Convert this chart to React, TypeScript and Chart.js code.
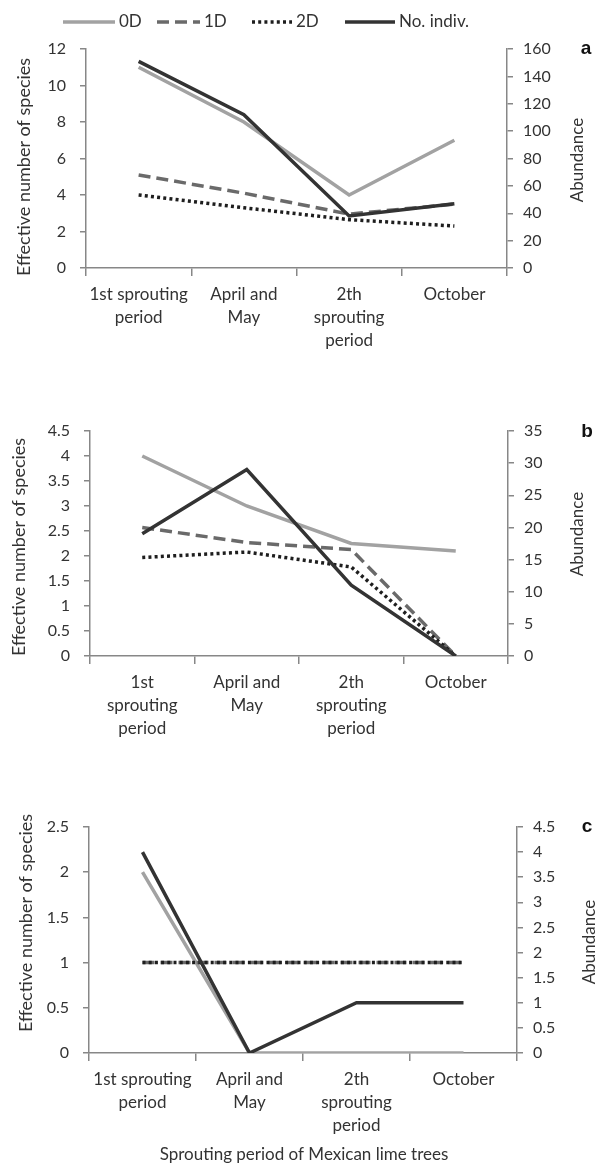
import React, { useEffect, useRef } from "react";
import { Chart, registerables } from "chart.js";

Chart.register(...registerables);

// ---------- data ----------
const seriesNames = ["0D", "1D", "2D", "No. indiv."];

const categoriesA = [["1st sprouting", "period"], ["April and", "May"], ["2th", "sprouting", "period"], ["October"]];
const categoriesB = [["1st", "sprouting", "period"], ["April and", "May"], ["2th", "sprouting", "period"], ["October"]];
const categoriesC = [["1st sprouting", "period"], ["April and", "May"], ["2th", "sprouting", "period"], ["October"]];

const a0D = [11, 8, 4, 7];
const a1D = [5.1, 4.1, 2.95, 3.5];
const a2D = [4.0, 3.3, 2.65, 2.3];
const aIndiv = [151, 112, 38, 47];

const b0D = [4, 3, 2.25, 2.1];
const b1D = [2.57, 2.27, 2.13, 0];
const b2D = [1.97, 2.08, 1.78, 0];
const bIndiv = [19, 29, 11, 0];

const c0D = [2, 0, 0, 0];
const c1D = [1, 1, 1, 1];
const c2D = [1, 1, 1, 1];
const cIndiv = [4, 0, 1, 1];

const leftAxisTitle = "Effective number of species";
const rightAxisTitle = "Abundance";
const xAxisTitle = "Sprouting period of Mexican lime trees";

// ---------- styles ----------
const FONT = "Lato, 'Liberation Sans', sans-serif";
const AXIS = "#878787";
const TXT = "#333333";

const seriesStyles = [
  { borderColor: "#a2a2a2", borderWidth: 3.5, borderDash: [] as number[], order: 3 },
  { borderColor: "#6a6a6a", borderWidth: 3.5, borderDash: [12, 6], order: 2 },
  { borderColor: "#1e1e1e", borderWidth: 3.5, borderDash: [3, 3.2], order: 1 },
  { borderColor: "#333333", borderWidth: 3.5, borderDash: [] as number[], order: 0 },
];

const fmt = (v: any) => String(Math.round(Number(v) * 100) / 100);

const decorPlugin = {
  id: "decor",
  afterDraw(chart: any, _args: any, opts: any) {
    const ctx = chart.ctx;
    (opts.texts || []).forEach((t: any) => {
      ctx.save();
      ctx.font = t.font;
      ctx.fillStyle = t.color || TXT;
      ctx.textAlign = "center";
      ctx.textBaseline = "middle";
      ctx.translate(t.x, t.y);
      if (t.rotate) ctx.rotate(t.rotate);
      ctx.fillText(t.text, 0, 0);
      ctx.restore();
    });
    if (opts.legend) {
      const L = opts.legend;
      chart.data.datasets.forEach((ds: any, i: number) => {
        const x0 = L.x[i];
        const len = L.len[i];
        ctx.save();
        ctx.strokeStyle = ds.borderColor;
        ctx.lineWidth = ds.borderWidth;
        ctx.setLineDash(ds.borderDash || []);
        ctx.beginPath();
        ctx.moveTo(x0, L.y);
        ctx.lineTo(x0 + len, L.y);
        ctx.stroke();
        ctx.restore();
        ctx.save();
        ctx.font = L.font;
        ctx.fillStyle = TXT;
        ctx.textAlign = "left";
        ctx.textBaseline = "middle";
        ctx.fillText(ds.label, x0 + len + L.gap, L.y);
        ctx.restore();
      });
    }
  },
};

type Panel = {
  labels: string[][];
  d0: number[];
  d1: number[];
  d2: number[];
  dn: number[];
  lMax: number;
  lStep: number;
  rMax: number;
  rStep: number;
  lW: number;
  rW: number;
  xH: number;
  padTop: number;
  texts: any[];
  legend?: any;
};

function buildConfig(p: Panel): any {
  const datas = [p.d0, p.d1, p.d2, p.dn];
  const datasets = datas.map((d, i) => ({
    label: seriesNames[i],
    data: d,
    yAxisID: i === 3 ? "y1" : "y",
    borderColor: seriesStyles[i].borderColor,
    backgroundColor: seriesStyles[i].borderColor,
    borderWidth: seriesStyles[i].borderWidth,
    borderDash: seriesStyles[i].borderDash,
    borderCapStyle: "butt",
    borderJoinStyle: "miter",
    order: seriesStyles[i].order,
    pointRadius: 0,
    pointHoverRadius: 0,
    tension: 0,
    fill: false,
  }));
  const tickFont = { family: FONT, size: 16 };
  return {
    type: "line",
    data: { labels: p.labels, datasets },
    options: {
      animation: false,
      responsive: false,
      devicePixelRatio: 1,
      layout: { padding: { top: p.padTop, left: 0, right: 0, bottom: 0 } },
      plugins: {
        legend: { display: false },
        tooltip: { enabled: false },
        decor: { texts: p.texts, legend: p.legend },
      },
      scales: {
        x: {
          type: "category",
          offset: true,
          grid: { offset: true, drawOnChartArea: false, drawTicks: true, tickLength: 8, color: AXIS, lineWidth: 1.5 },
          border: { display: true, color: AXIS, width: 1.5 },
          ticks: { font: { family: FONT, size: 17, lineHeight: 1.35 }, color: TXT, padding: 7, maxRotation: 0, minRotation: 0, autoSkip: false },
          afterFit: (s: any) => { s.height = p.xH; },
        },
        y: {
          position: "left",
          min: 0,
          max: p.lMax,
          ticks: { stepSize: p.lStep, font: tickFont, color: TXT, padding: 14, callback: fmt },
          grid: { drawOnChartArea: false, drawTicks: true, tickLength: 6, color: AXIS, lineWidth: 1.5 },
          border: { display: true, color: AXIS, width: 1.5 },
          afterFit: (s: any) => { s.width = p.lW; },
        },
        y1: {
          position: "right",
          min: 0,
          max: p.rMax,
          ticks: { stepSize: p.rStep, font: tickFont, color: TXT, padding: 10, callback: fmt },
          grid: { drawOnChartArea: false, drawTicks: true, tickLength: 6, color: AXIS, lineWidth: 1.5 },
          border: { display: true, color: AXIS, width: 1.5 },
          afterFit: (s: any) => { s.width = p.rW; },
        },
      },
    },
    plugins: [decorPlugin],
  };
}

const titleFont = `18px ${FONT}`;
const rightFont = `17px ${FONT}`;
const letterFont = `bold 19px 'Liberation Sans', Arial, sans-serif`;
const ROT = -Math.PI / 2;

const panelA: Panel = {
  labels: categoriesA, d0: a0D, d1: a1D, d2: a2D, dn: aIndiv,
  lMax: 12, lStep: 2, rMax: 160, rStep: 20,
  lW: 86, rW: 88, xH: 107, padTop: 49,
  texts: [
    { text: leftAxisTitle, x: 24, y: 167, font: titleFont, rotate: ROT },
    { text: rightAxisTitle, x: 578, y: 160, font: rightFont, rotate: ROT },
    { text: "a", x: 586, y: 49, font: letterFont, color: "#111" },
  ],
  legend: { x: [63, 157, 252, 345], len: [52, 43, 40, 50], gap: 4, y: 22, font: `17px ${FONT}` },
};

const panelB: Panel = {
  labels: categoriesB, d0: b0D, d1: b1D, d2: b2D, dn: bIndiv,
  lMax: 4.5, lStep: 0.5, rMax: 35, rStep: 5,
  lW: 90, rW: 87, xH: 114, padTop: 51,
  texts: [
    { text: leftAxisTitle, x: 19, y: 167, font: titleFont, rotate: ROT },
    { text: rightAxisTitle, x: 578, y: 154, font: rightFont, rotate: ROT },
    { text: "b", x: 587, y: 52, font: letterFont, color: "#111" },
  ],
};

const panelC: Panel = {
  labels: categoriesC, d0: c0D, d1: c1D, d2: c2D, dn: cIndiv,
  lMax: 2.5, lStep: 0.5, rMax: 4.5, rStep: 0.5,
  lW: 89, rW: 78, xH: 117, padTop: 47,
  texts: [
    { text: leftAxisTitle, x: 26, y: 143, font: titleFont, rotate: ROT },
    { text: rightAxisTitle, x: 590, y: 162, font: rightFont, rotate: ROT },
    { text: "c", x: 587, y: 47, font: letterFont, color: "#111" },
    { text: xAxisTitle, x: 304, y: 375, font: `17px ${FONT}` },
  ],
};

function PanelChart({ panel, top, height }: { panel: Panel; top: number; height: number }) {
  const ref = useRef<HTMLCanvasElement | null>(null);
  useEffect(() => {
    if (!ref.current) return;
    const chart = new Chart(ref.current, buildConfig(panel));
    return () => chart.destroy();
  }, [panel]);
  return (
    <canvas
      ref={ref}
      width={595}
      height={height}
      style={{ position: "absolute", left: 0, top, width: 595, height }}
    />
  );
}

export default function App() {
  return (
    <div style={{ position: "absolute", left: 0, top: 0, width: 595, height: 1170, background: "#ffffff", overflow: "hidden" }}>
      <PanelChart panel={panelA} top={0} height={375} />
      <PanelChart panel={panelB} top={380} height={390} />
      <PanelChart panel={panelC} top={780} height={390} />
    </div>
  );
}
